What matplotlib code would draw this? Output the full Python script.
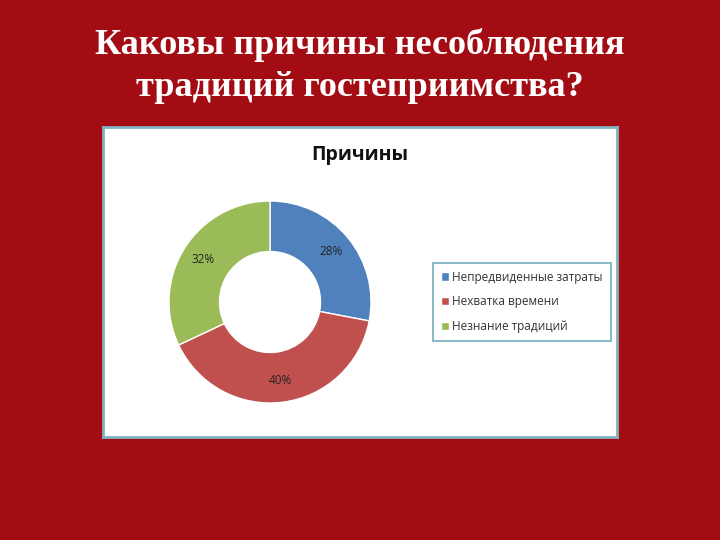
import matplotlib
matplotlib.use("Agg")
import matplotlib.pyplot as plt

# data
labels = ["Непредвиденные затраты", "Нехватка времени", "Незнание традиций"]
shares = [28, 40, 32]
colors = ["#4f81bd", "#c0504d", "#9bbb59"]

slide_title = "Каковы причины несоблюдения\nтрадиций гостеприимства?"
chart_title = "Причины"

fig = plt.figure(figsize=(7.2, 5.4), dpi=100)
fig.patch.set_facecolor("#a30c12")

# slide title
fig.text(0.5, 1 - 66 / 540, slide_title, ha="center", va="center", color="white",
         family="Liberation Serif", fontweight="bold", fontsize=26,
         linespacing=1.4)

# white chart area
box = fig.add_axes([103 / 720, 1 - 437 / 540, 514 / 720, 310 / 540])
box.set_facecolor("white")
box.set_xticks([])
box.set_yticks([])
for s in box.spines.values():
    s.set_color("#7fb3c0")
    s.set_linewidth(2)

fig.text(0.5, 1 - 155 / 540, chart_title, ha="center", va="center",
         family="Open Sans", fontweight="bold", fontsize=14, color="#111111")

# donut
ax = fig.add_axes([(270 - 110) / 720, (540 - 302 - 110) / 540, 220 / 720, 220 / 540])
wedges, _, autotexts = ax.pie(
    shares, colors=colors, startangle=90, counterclock=False,
    radius=101 / 110, autopct="%d%%", pctdistance=0.78,
    wedgeprops=dict(width=0.5 * 101 / 110, edgecolor="white", linewidth=1),
    textprops=dict(fontsize=8.5, color="#222222", family="Open Sans"),
)
ax.set_xlim(-1, 1)
ax.set_ylim(-1, 1)
ax.set_aspect("equal")
ax.axis("off")

leg = fig.legend(
    wedges, labels, loc="upper left",
    bbox_to_anchor=(433 / 720, 1 - 263 / 540),
    prop=dict(family="Open Sans", size=8.5), frameon=True, fancybox=False,
    handlelength=0.7, handleheight=0.7, handletextpad=0.3,
    labelspacing=1.0, borderpad=0.65, borderaxespad=0,
)
leg.get_frame().set_edgecolor("#6fa8b8")
leg.get_frame().set_linewidth(1.5)
for t in leg.get_texts():
    t.set_color("#333333")

fig.savefig("out.png", dpi=100, facecolor=fig.get_facecolor())
